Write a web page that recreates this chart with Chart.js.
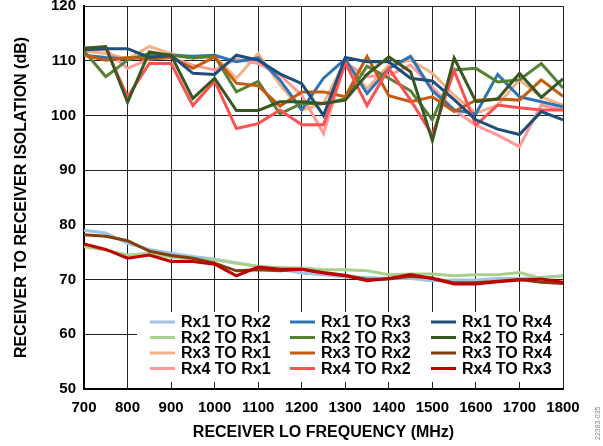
<!DOCTYPE html>
<html>
<head>
<meta charset="utf-8">
<script src="https://cdn.jsdelivr.net/npm/chart.js@4.4.1/dist/chart.umd.min.js"></script>
<style>
  html, body { margin: 0; padding: 0; background: #fff; }
  #wrap { width: 603px; height: 446px; position: relative; }
</style>
</head>
<body>
<div id="wrap"><canvas id="isoChart" width="603" height="446"></canvas></div>
<script>
// -- receiver to receiver isolation vs LO frequency
var freqs = [700, 750, 800, 850, 900, 950, 1000, 1050, 1100, 1150, 1200, 1250,
  1300, 1350, 1400, 1450, 1500, 1550, 1600, 1650, 1700, 1750, 1800];

var rx1to2 = [79.0, 78.5, 76.6, 75.5, 74.8, 74.2, 73.7, 73.1, 72.4, 71.9, 71.2, 70.9, 70.5, 70.4, 70.2, 70.2, 69.8, 69.9, 69.9, 70.2, 70.2, 70.4, 70.7];
var rx2to1 = [76.0, 75.4, 74.5, 74.8, 74.1, 73.7, 73.6, 73.0, 72.4, 72.2, 72.1, 71.8, 71.8, 71.6, 70.9, 71.0, 71.0, 70.7, 70.9, 70.9, 71.3, 70.2, 70.7];
var rx3to1 = [111.8, 111.3, 110.3, 112.6, 111.3, 110.5, 110.8, 106.8, 111.3, 105.6, 101.0, 102.2, 110.0, 104.9, 109.2, 110.1, 107.7, 103.7, 100.4, 101.9, 106.5, 103.4, 101.9];
var rx4to1 = [112.0, 112.0, 108.6, 110.3, 110.6, 109.2, 108.3, 110.3, 109.5, 107.4, 103.7, 96.7, 109.6, 107.1, 107.3, 109.2, 105.2, 101.0, 98.2, 96.4, 94.3, 101.9, 101.0];

var rx1to3 = [111.0, 110.6, 110.3, 111.0, 111.0, 110.8, 111.0, 109.8, 110.5, 106.5, 101.0, 106.8, 110.3, 104.0, 108.6, 110.8, 104.5, 101.0, 100.3, 107.5, 103.4, 102.5, 101.6];
var rx2to3 = [111.8, 107.1, 110.1, 111.3, 111.0, 110.5, 110.8, 104.3, 106.2, 100.3, 102.2, 102.2, 103.0, 109.0, 106.8, 104.5, 99.2, 108.3, 108.6, 106.1, 106.5, 109.5, 105.0];
var rx3to2 = [111.0, 110.1, 110.6, 110.3, 110.6, 108.6, 110.7, 105.9, 105.4, 101.7, 104.3, 104.3, 103.4, 110.8, 103.6, 102.5, 103.4, 100.7, 102.8, 103.0, 102.8, 106.5, 103.5];
var rx4to2 = [112.3, 112.3, 103.4, 109.5, 109.5, 101.8, 106.3, 97.6, 98.5, 101.0, 98.3, 98.3, 109.6, 101.8, 108.6, 102.8, 96.4, 108.2, 98.2, 101.9, 101.4, 101.0, 101.0];

var rx1to4 = [112.0, 112.2, 112.2, 110.6, 111.0, 107.7, 107.5, 111.0, 110.1, 107.6, 105.8, 100.0, 110.6, 109.8, 109.8, 106.8, 106.3, 102.9, 99.2, 97.5, 96.5, 100.7, 99.2];
var rx2to4 = [112.3, 112.6, 102.4, 111.6, 111.0, 103.1, 106.8, 100.9, 100.9, 102.5, 102.5, 102.2, 102.8, 107.5, 110.7, 108.0, 95.4, 110.5, 102.5, 103.0, 107.7, 103.3, 106.7];
var rx3to4 = [78.2, 77.9, 77.1, 75.2, 74.4, 73.9, 73.0, 71.6, 71.8, 71.6, 71.9, 71.3, 70.8, 70.0, 70.1, 70.6, 70.3, 69.4, 69.4, 69.7, 70.0, 69.5, 69.3];
var rx4to3 = [76.5, 75.5, 73.9, 74.5, 73.3, 73.3, 72.8, 70.7, 72.3, 71.9, 71.9, 71.2, 70.7, 69.8, 70.2, 70.9, 70.2, 69.2, 69.2, 69.6, 69.9, 70.1, 69.5];

// legend is laid out column by column, 4 rows each
var seriesNames = ['Rx1 TO Rx2', 'Rx2 TO Rx1', 'Rx3 TO Rx1', 'Rx4 TO Rx1',
  'Rx1 TO Rx3', 'Rx2 TO Rx3', 'Rx3 TO Rx2', 'Rx4 TO Rx2',
  'Rx1 TO Rx4', 'Rx2 TO Rx4', 'Rx3 TO Rx4', 'Rx4 TO Rx3'];
var seriesData = [rx1to2, rx2to1, rx3to1, rx4to1,
  rx1to3, rx2to3, rx3to2, rx4to2,
  rx1to4, rx2to4, rx3to4, rx4to3];
var seriesColors = ['#9dc3e6', '#a9d18e', '#f4b183', '#ff9999',
  '#2e75b6', '#548235', '#c55a11', '#ff5050',
  '#1f4e79', '#385723', '#843c0c', '#c00000'];

var FONT = "'Liberation Sans', Arial, sans-serif";

var datasets = seriesNames.map(function (name, i) {
  return {
    label: name,
    data: freqs.map(function (f, j) { return { x: f, y: seriesData[i][j] }; }),
    borderColor: seriesColors[i],
    backgroundColor: seriesColors[i],
    borderWidth: 3,
    pointRadius: 0,
    tension: 0,
    order: 12 - i
  };
});

// legend drawn inside the plot, on a white box over the grid
var insideLegend = {
  id: 'insideLegend',
  beforeDatasetsDraw: function (chart) {
    var ctx = chart.ctx;
    var area = chart.chartArea;
    ctx.save();
    ctx.fillStyle = '#fff';
    ctx.fillRect(137, 312, area.right - 140, 70);
    ctx.font = 'bold 16px ' + FONT;
    ctx.textBaseline = 'middle';
    ctx.textAlign = 'left';
    var colX = [150, 290, 431];
    var rowY = [322, 337.5, 353, 368.5];
    chart.data.datasets.forEach(function (ds, i) {
      var c = Math.floor(i / 4), r = i % 4;
      ctx.strokeStyle = ds.borderColor;
      ctx.lineWidth = 3;
      ctx.beginPath();
      ctx.moveTo(colX[c], rowY[r]);
      ctx.lineTo(colX[c] + 25, rowY[r]);
      ctx.stroke();
      ctx.fillStyle = '#000';
      ctx.fillText(ds.label, colX[c] + 31, rowY[r] + 1);
    });
    ctx.restore();
  },
  afterDraw: function (chart) {
    var ctx = chart.ctx;
    ctx.save();
    ctx.translate(598, 440);
    ctx.rotate(-Math.PI / 2);
    ctx.font = '7px ' + FONT;
    ctx.fillStyle = '#888';
    ctx.textAlign = 'left';
    ctx.textBaseline = 'middle';
    ctx.fillText('22383-035', 0, 0);
    ctx.restore();
  }
};

var ctx = document.getElementById('isoChart');
var isoChart = new Chart(ctx, {
  type: 'line',
  data: { datasets: datasets },
  plugins: [insideLegend],
  options: {
    responsive: false,
    animation: false,
    events: [],
    layout: { padding: { top: 6, right: 40, left: 0, bottom: 0 } },
    plugins: { legend: { display: false }, tooltip: { enabled: false } },
    scales: {
      x: {
        type: 'linear',
        min: 700,
        max: 1800,
        afterFit: function (scale) { scale.height = 57; },
        ticks: {
          stepSize: 100,
          color: '#000',
          padding: 10,
          maxRotation: 0,
          callback: function (v) { return String(v); },
          font: { family: FONT, size: 15, weight: 'bold' }
        },
        grid: { color: '#222', lineWidth: 1, drawTicks: false },
        border: { color: '#000', width: 2 },
        title: {
          display: true,
          text: 'RECEIVER LO FREQUENCY (MHz)',
          color: '#000',
          padding: { top: 2 },
          font: { family: FONT, size: 16, weight: 'bold' }
        }
      },
      y: {
        min: 50,
        max: 120,
        afterFit: function (scale) {
          scale.width = 84;
          scale.paddingTop = 0;
          scale.paddingBottom = 0;
        },
        ticks: {
          stepSize: 10,
          color: '#000',
          padding: 8,
          font: { family: FONT, size: 15, weight: 'bold' }
        },
        grid: { color: '#222', lineWidth: 1, drawTicks: false },
        border: { color: '#000', width: 2 },
        title: {
          display: true,
          text: 'RECEIVER TO RECEIVER ISOLATION (dB)',
          color: '#000',
          padding: { top: 12, bottom: 6 },
          font: { family: FONT, size: 16, weight: 'bold' }
        }
      }
    }
  }
});
</script>
</body>
</html>
